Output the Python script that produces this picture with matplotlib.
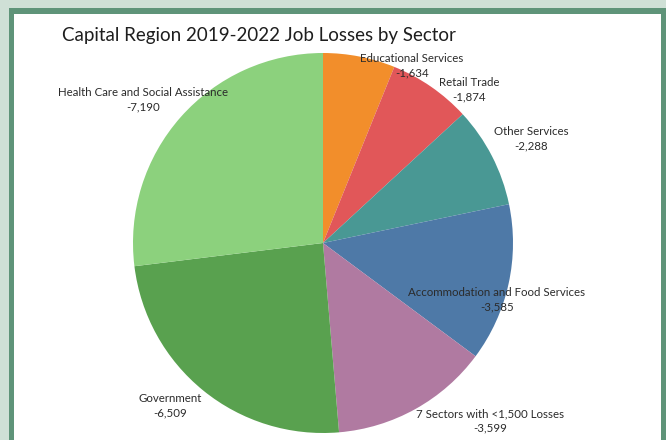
import matplotlib
matplotlib.use("Agg")
import matplotlib.pyplot as plt
from matplotlib.patches import Rectangle

plt.rcParams['font.family'] = ['Lato', 'DejaVu Sans']

# Sector job losses, clockwise from 12 o'clock
sectors = [
    "Educational Services",
    "Retail Trade",
    "Other Services",
    "Accommodation and Food Services",
    "7 Sectors with <1,500 Losses",
    "Government",
    "Health Care and Social Assistance",
]
losses = [-1634, -1874, -2288, -3585, -3599, -6509, -7190]
colors = ["#F28E2B", "#E15759", "#499894", "#4E79A7", "#B07AA1", "#59A14F", "#8CD17D"]

# label anchor points in pixels (x, y from top-left)
label_px = [
    (412, 66), (469, 90), (531, 139), (497, 300),
    (490, 421), (170, 406), (143, 100),
]

W, H = 666, 440
fig = plt.figure(figsize=(W / 100, H / 100), dpi=100)
fig.patch.set_facecolor("#cfe0d6")

# dashboard frame: dark green border around a white panel
fig.patches.append(Rectangle((9 / W, 0), (W - 9) / W, (H - 8) / H,
                             transform=fig.transFigure, facecolor="#5f9479",
                             edgecolor="none", zorder=-10))
fig.patches.append(Rectangle((14 / W, 0), (661 - 14) / W, (H - 14) / H,
                             transform=fig.transFigure, facecolor="white",
                             edgecolor="none", zorder=-9))

cx, cy, r = 323, 243, 190
ax = fig.add_axes([(cx - r) / W, 1 - (cy + r) / H, 2 * r / W, 2 * r / H])
ax.set_zorder(1)
ax.patch.set_visible(False)
ax.pie([abs(v) for v in losses], colors=colors, startangle=90,
       counterclock=False, wedgeprops=dict(linewidth=0))
ax.set_xlim(-1, 1)
ax.set_ylim(-1, 1)
ax.set_aspect("equal")
ax.axis("off")

for name, val, (px, py) in zip(sectors, losses, label_px):
    fig.text(px / W, 1 - py / H, f"{name}\n{val:,}", ha="center", va="center",
             fontsize=8.3, color="#2b2b2b", linespacing=1.35, zorder=5)

fig.text(62 / W, 1 - 35 / H, "Capital Region 2019-2022 Job Losses by Sector",
         ha="left", va="center", fontsize=13.5, color="#1e1e1e", zorder=5)

fig.savefig("out.png", dpi=100, facecolor=fig.get_facecolor())
